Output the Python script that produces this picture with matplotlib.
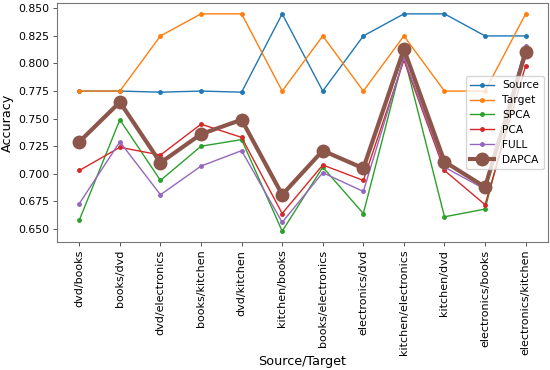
"""Accuracy per source/target domain pair for several methods."""

import matplotlib
matplotlib.use("Agg")
import matplotlib.pyplot as plt

pairs = [
    "dvd/books", "books/dvd", "dvd/electronics", "books/kitchen",
    "dvd/kitchen", "kitchen/books", "books/electronics", "electronics/dvd",
    "kitchen/electronics", "kitchen/dvd", "electronics/books",
    "electronics/kitchen",
]

source = [0.775, 0.775, 0.774, 0.775, 0.774, 0.845,
          0.775, 0.825, 0.845, 0.845, 0.825, 0.825]
target = [0.775, 0.775, 0.825, 0.845, 0.845, 0.775,
          0.825, 0.775, 0.825, 0.775, 0.775, 0.845]
spca = [0.658, 0.749, 0.694, 0.725, 0.731, 0.648,
        0.706, 0.664, 0.807, 0.661, 0.668, 0.810]
pca = [0.703, 0.724, 0.717, 0.745, 0.733, 0.664,
       0.708, 0.694, 0.803, 0.703, 0.672, 0.798]
full = [0.673, 0.729, 0.681, 0.707, 0.721, 0.656,
        0.701, 0.684, 0.805, 0.706, 0.686, 0.816]
dapca = [0.729, 0.765, 0.710, 0.736, 0.749, 0.681,
         0.721, 0.705, 0.813, 0.711, 0.688, 0.810]

fig = plt.figure(figsize=(5.5, 3.7), dpi=100)
ax = fig.add_axes([0.1036, 0.3459, 0.8927, 0.646])

x = range(len(pairs))
ax.plot(x, source, marker=".", linewidth=1.0, markersize=5, label="Source")
ax.plot(x, target, marker=".", linewidth=1.0, markersize=5, label="Target")
ax.plot(x, spca, marker=".", linewidth=1.0, markersize=5, label="SPCA")
ax.plot(x, pca, marker=".", linewidth=1.0, markersize=5, label="PCA")
ax.plot(x, full, marker=".", linewidth=1.0, markersize=5, label="FULL")
ax.plot(x, dapca, marker="o", linewidth=3.0, markersize=9, label="DAPCA")

ax.set_xticks(list(x))
ax.set_xticklabels(pairs, rotation=90, fontsize=8)
yticks = [0.650, 0.675, 0.700, 0.725, 0.750, 0.775, 0.800, 0.825, 0.850]
ax.set_yticks(yticks)
ax.set_yticklabels([f"{v:.3f}" for v in yticks], fontsize=7.8)
ax.tick_params(length=3, width=0.7, pad=2.5, color="#555555")
ax.set_xlabel("Source/Target", fontsize=9.2, labelpad=0)
ax.set_ylabel("Accuracy", fontsize=9.2, labelpad=3)
for spine in ax.spines.values():
    spine.set_color("#777777")
    spine.set_linewidth(0.8)

ax.legend(loc="center right", fontsize=7.7, labelspacing=0.45,
          borderaxespad=0.4, handlelength=2.2)

fig.savefig("out.png", dpi=100)
